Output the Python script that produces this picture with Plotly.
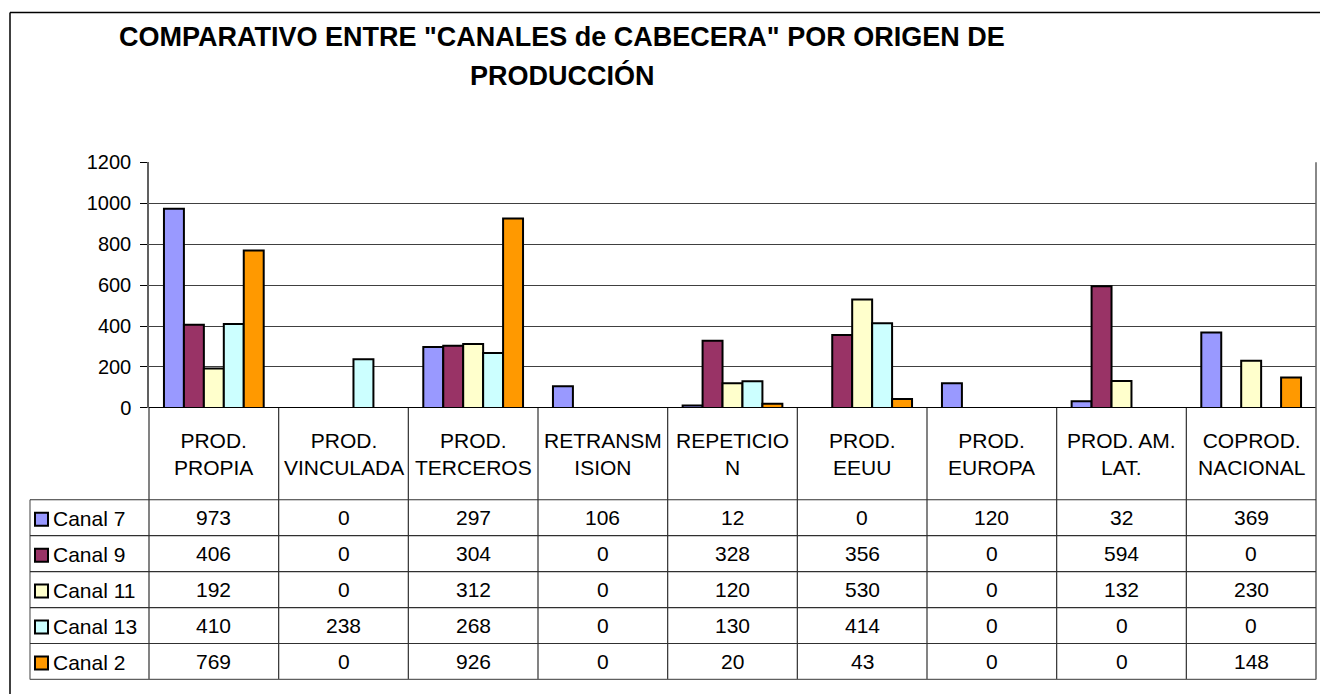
import plotly.graph_objects as go

# ---------------- data ----------------
categories = ["PROD. PROPIA", "PROD. VINCULADA", "PROD. TERCEROS", "RETRANSMISION",
              "REPETICION", "PROD. EEUU", "PROD. EUROPA", "PROD. AM. LAT.", "COPROD. NACIONAL"]
header_labels = ["PROD.<br>PROPIA", "PROD.<br>VINCULADA", "PROD.<br>TERCEROS", "RETRANSM<br>ISION",
                 "REPETICIO<br>N", "PROD.<br>EEUU", "PROD.<br>EUROPA", "PROD. AM.<br>LAT.",
                 "COPROD.<br>NACIONAL"]
series_names = ["Canal 7", "Canal 9", "Canal 11", "Canal 13", "Canal 2"]
canal7 = [973, 0, 297, 106, 12, 0, 120, 32, 369]
canal9 = [406, 0, 304, 0, 328, 356, 0, 594, 0]
canal11 = [192, 0, 312, 0, 120, 530, 0, 132, 230]
canal13 = [410, 238, 268, 0, 130, 414, 0, 0, 0]
canal2 = [769, 0, 926, 0, 20, 43, 0, 0, 148]
y_ticks = [0, 200, 400, 600, 800, 1000, 1200]
title_line1 = 'COMPARATIVO ENTRE "CANALES de CABECERA" POR ORIGEN DE'
title_line2 = "PRODUCCIÓN"

series_values = [canal7, canal9, canal11, canal13, canal2]
colors = ["#9999FF", "#993366", "#FFFFCC", "#CCFFFF", "#FF9900"]

W, H = 1320, 694
FONT = "Arial, Liberation Sans, sans-serif"
TXT = 21


def px(x):
    return x / W


def py(y):
    # compensate for the vertical mapping observed in the rendered page
    yy = (y - 10.4) / 0.97
    return 1 - yy / H


PLOT_L, PLOT_R, PLOT_T, PLOT_B = 149, 1316, 162, 408
TABLE_L = 30
HEADER_B = 500
ROW_H = 36

fig = go.Figure()
for name, vals, col in zip(series_names, series_values, colors):
    fig.add_trace(go.Bar(
        x=categories, y=[v if v != 0 else None for v in vals], name=name,
        marker=dict(color=col, line=dict(color="#000000", width=2)),
        showlegend=False,
    ))

shapes = []
annotations = []
LINE_DARK = "#303030"
LINE_GRAY = "#606060"

# outer chart border (left and top)
shapes.append(dict(type="line", xref="paper", yref="paper", x0=px(10), x1=px(10),
                   y0=py(12), y1=py(720), line=dict(color="#000000", width=1.5)))
shapes.append(dict(type="line", xref="paper", yref="paper", x0=px(10), x1=px(1330),
                   y0=py(12), y1=py(12), line=dict(color="#000000", width=1.5)))

# plot area right border
shapes.append(dict(type="line", xref="paper", yref="paper", x0=px(PLOT_R), x1=px(PLOT_R),
                   y0=py(PLOT_T), y1=py(PLOT_B), line=dict(color=LINE_GRAY, width=1.5)))

n_rows = len(series_names)
table_bottom = HEADER_B + ROW_H * n_rows

# table vertical lines at category boundaries
for k in range(1, len(categories)):
    shapes.append(dict(type="line", xref="x", yref="paper", x0=k - 0.5, x1=k - 0.5,
                       y0=py(PLOT_B), y1=py(table_bottom), line=dict(color=LINE_DARK, width=1.2)))
shapes.append(dict(type="line", xref="paper", yref="paper", x0=px(PLOT_L), x1=px(PLOT_L),
                   y0=py(PLOT_B), y1=py(table_bottom), line=dict(color=LINE_DARK, width=1.2)))
shapes.append(dict(type="line", xref="paper", yref="paper", x0=px(PLOT_R), x1=px(PLOT_R),
                   y0=py(PLOT_B), y1=py(table_bottom), line=dict(color=LINE_GRAY, width=1.5)))
shapes.append(dict(type="line", xref="paper", yref="paper", x0=px(TABLE_L), x1=px(TABLE_L),
                   y0=py(HEADER_B), y1=py(table_bottom), line=dict(color=LINE_GRAY, width=1.2)))
for r in range(n_rows + 1):
    yy = HEADER_B + r * ROW_H
    shapes.append(dict(type="line", xref="paper", yref="paper", x0=px(TABLE_L), x1=px(PLOT_R),
                       y0=py(yy), y1=py(yy),
                       line=dict(color=LINE_GRAY if r == n_rows else LINE_DARK, width=1.2)))

# header labels
for cat, lab in zip(categories, header_labels):
    annotations.append(dict(x=cat, xref="x", y=py((PLOT_B + HEADER_B) / 2), yref="paper",
                            text=lab, showarrow=False, xanchor="center", yanchor="middle",
                            font=dict(family=FONT, size=TXT, color="#000000")))

# data rows
for r, (name, vals, col) in enumerate(zip(series_names, series_values, colors)):
    yc = HEADER_B + r * ROW_H + ROW_H / 2
    shapes.append(dict(type="rect", xref="paper", yref="paper",
                       x0=px(35), x1=px(48), y0=py(yc - 5), y1=py(yc + 8),
                       fillcolor=col, line=dict(color="#000000", width=2)))
    annotations.append(dict(x=px(51), xref="paper", y=py(yc + 1), yref="paper", text=name,
                            showarrow=False, xanchor="left", yanchor="middle",
                            font=dict(family=FONT, size=TXT, color="#000000")))
    for cat, v in zip(categories, vals):
        annotations.append(dict(x=cat, xref="x", y=py(yc), yref="paper", text=str(v),
                                showarrow=False, xanchor="center", yanchor="middle",
                                font=dict(family=FONT, size=TXT, color="#000000")))

# title
annotations.append(dict(x=px(562), y=py(36), xref="paper", yref="paper", text="<b>" + title_line1 + "</b>",
                        showarrow=False, xanchor="center", yanchor="middle",
                        font=dict(family=FONT, size=27, color="#000000")))
annotations.append(dict(x=px(562), y=py(75), xref="paper", yref="paper", text="<b>" + title_line2 + "</b>",
                        showarrow=False, xanchor="center", yanchor="middle",
                        font=dict(family=FONT, size=27, color="#000000")))

fig.update_layout(
    width=W, height=H, autosize=False,
    margin=dict(l=0, r=0, t=0, b=0, pad=0),
    paper_bgcolor="#FFFFFF", plot_bgcolor="#FFFFFF",
    barmode="group", bargap=1.5 / 6.5, bargroupgap=0,
    xaxis=dict(domain=[px(PLOT_L), px(PLOT_R)], range=[-0.5, len(categories) - 0.5],
               showticklabels=False, ticks="", showgrid=False, zeroline=False,
               showline=False, fixedrange=True),
    yaxis=dict(domain=[py(PLOT_B), py(PLOT_T)], range=[0, 1200], tickvals=y_ticks,
               ticktext=[str(t) for t in y_ticks], ticks="outside", ticklen=7, tickwidth=1.2,
               tickcolor="#000000", showgrid=True, gridcolor="#404040", gridwidth=1,
               zeroline=True, zerolinecolor="#000000", zerolinewidth=1.2,
               showline=True, linecolor=LINE_GRAY, linewidth=1.5, ticklabelstandoff=5,
               tickfont=dict(family=FONT, size=20, color="#000000"), fixedrange=True),
    shapes=shapes, annotations=annotations,
)

post = "document.body.style.margin='0';document.body.style.overflow='hidden';"
fig.write_html("out.html", config={"displayModeBar": False}, post_script=post)
